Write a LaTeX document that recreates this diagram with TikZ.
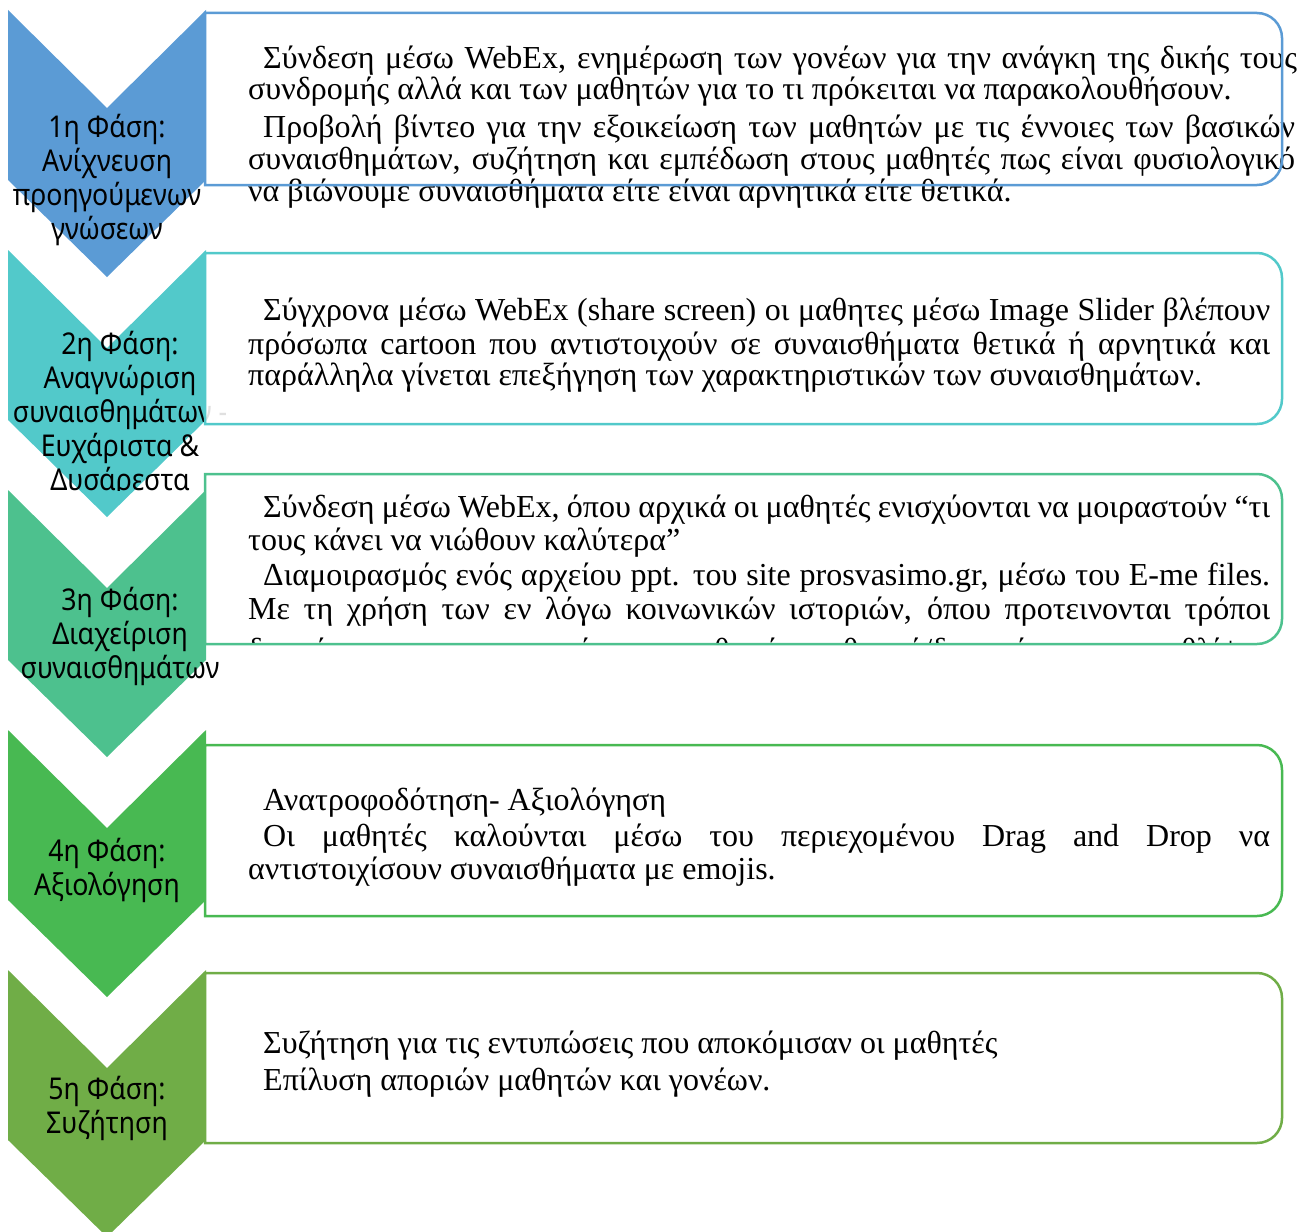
\documentclass[tikz,border=0pt]{standalone}
\usepackage{fontspec}
\setmainfont{Liberation Serif}
\newfontfamily\labelfont[FakeStretch=0.89]{Noto Sans}
\definecolor{cA}{HTML}{5B9BD5}
\definecolor{cB}{HTML}{52C9CA}
\definecolor{cC}{HTML}{4DC18E}
\definecolor{cD}{HTML}{48B952}
\definecolor{cE}{HTML}{70AD47}
\newcommand\chevpath[1]{(8,#1) -- (107,#1+98) -- (206,#1) -- (206,#1+170) -- (107,#1+267) -- (8,#1+170) -- cycle}
\newcommand\boxpath[2]{(205,#1) -- (1257,#1) arc[start angle=270,end angle=360,radius=25] -- (1282,#2-25) arc[start angle=0,end angle=90,radius=25] -- (205,#2) -- cycle}
\newcommand\jl[2]{\makebox[#1pt][s]{#2}}
\tikzset{
  lab/.style={font=\labelfont\fontsize{30}{34}\selectfont, align=center, inner sep=0pt, text=black},
  ln/.style={anchor=base west, inner sep=0pt, font=\fontsize{32}{33}\selectfont, text=black},
  boxfill/.style={fill=white, fill opacity=0.88},
  boxline/.style={line width=2.5pt},
}
\begin{document}
\begin{tikzpicture}[x=1pt,y=-1pt]
\useasboundingbox (0,0) rectangle (1300,1231);
% chevrons
\fill[cA] \chevpath{10};
\fill[cB] \chevpath{250};
\fill[cC] \chevpath{490};
\fill[cD] \chevpath{730};
\fill[cE] \chevpath{970};
% chevron labels
\node[lab] (l1) at (107,180) {1η Φάση:\\Ανίχνευση\\προηγούμενων\\γνώσεων};
\begin{scope}
\clip (0,250) rectangle (1300,490);
\node[lab] (l2) at (120,414.5) {2η Φάση:\\Αναγνώριση\\συναισθημάτων -\\Ευχάριστα \&\\Δυσάρεστα};
\end{scope}
\node[lab] (l3) at (120,636) {3η Φάση:\\Διαχείριση\\συναισθημάτων};
\node[lab] (l4) at (107,870) {4η Φάση:\\Αξιολόγηση};
\node[lab] (l5) at (107,1108) {5η Φάση:\\Συζήτηση};
% box fills
\fill[boxfill] \boxpath{13}{185};
\fill[boxfill] \boxpath{253}{424};
\fill[boxfill] \boxpath{474}{644};
\fill[boxfill] \boxpath{745}{916};
\fill[boxfill] \boxpath{973}{1143};
% box 1 text
\node[ln] (t11) at (263,68) {\jl{1034}{Σύνδεση μέσω WebEx, ενημέρωση των γονέων για την ανάγκη της δικής τους}};
\node[ln] (t12) at (248,99) {συνδρομής αλλά και των μαθητών για το τι πρόκειται να παρακολουθήσουν.};
\node[ln] (t13) at (263,137) {\jl{1032}{Προβολή βίντεο για την εξοικείωση των μαθητών με τις έννοιες των βασικών}};
\node[ln] (t14) at (248,169) {\jl{1047}{συναισθημάτων, συζήτηση και εμπέδωση στους μαθητές πως είναι φυσιολογικό}};
\node[ln] (t15) at (248,201) {να βιώνουμε συναισθήματα είτε είναι αρνητικά είτε θετικά.};
% box 2 text
\node[ln] (t21) at (263,320) {\jl{1007}{Σύγχρονα μέσω WebEx (share screen) οι μαθητες μέσω Image Slider βλέπουν}};
\node[ln] (t22) at (248,354) {\jl{1022}{πρόσωπα cartoon που αντιστοιχούν σε συναισθήματα θετικά ή αρνητικά και}};
\node[ln] (t23) at (248,385) {παράλληλα γίνεται επεξήγηση των χαρακτηριστικών των συναισθημάτων.};
% box 3 text
\begin{scope}
\clip (205,474) rectangle (1300,642);
\node[ln] (t31) at (263,517) {\jl{1007}{Σύνδεση μέσω WebEx, όπου αρχικά οι μαθητές ενισχύονται να μοιραστούν “τι}};
\node[ln] (t32) at (248,550) {τους κάνει να νιώθουν καλύτερα”};
\node[ln] (t33) at (263,585) {\jl{1007}{Διαμοιρασμός ενός αρχείου ppt. του site prosvasimo.gr, μέσω του E-me files.}};
\node[ln] (t34) at (248,619) {\jl{1022}{Με τη χρήση των εν λόγω κοινωνικών ιστοριών, όπου προτεινονται τρόποι}};
\node[ln] (t35) at (248,660) {\jl{1022}{διαχείρισης των αρνητικών συναισθημάτων θυμού/δυσαρέσκειας και θλίψης}};
\end{scope}
% box 4 text
\node[ln] (t41) at (263,810) {Ανατροφοδότηση- Αξιολόγηση};
\node[ln] (t42) at (263,846) {\jl{1007}{Οι μαθητές καλούνται μέσω του περιεχομένου Drag and Drop να}};
\node[ln] (t43) at (248,879) {αντιστοιχίσουν συναισθήματα με emojis.};
% box 5 text
\node[ln] (t51) at (263,1053) {Συζήτηση για τις εντυπώσεις που αποκόμισαν οι μαθητές};
\node[ln] (t52) at (263,1090) {Επίλυση αποριών μαθητών και γονέων.};
% box borders
\draw[boxline,cA] \boxpath{13}{185};
\draw[boxline,cB] \boxpath{253}{424};
\draw[boxline,cC] \boxpath{474}{644};
\draw[boxline,cD] \boxpath{745}{916};
\draw[boxline,cE] \boxpath{973}{1143};
\end{tikzpicture}
\end{document}
